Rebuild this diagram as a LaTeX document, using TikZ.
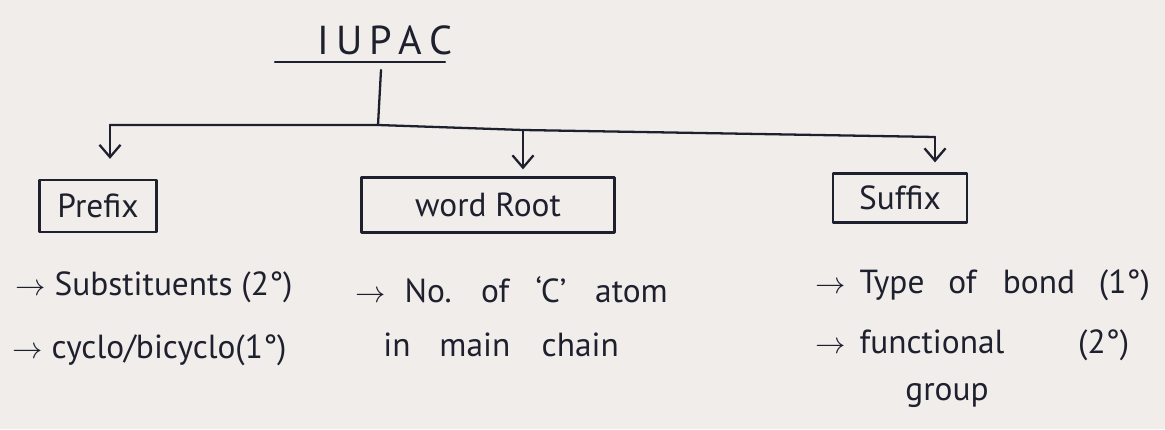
\documentclass[tikz,border=0pt]{standalone}
\usepackage{fontspec}
\setmainfont{PT Sans}
\usetikzlibrary{arrows.meta}
\definecolor{paper}{RGB}{240,237,235}
\definecolor{ink}{RGB}{30,32,45}
\newcommand{\gp}[1]{\hspace{#1}}
\begin{document}
\begin{tikzpicture}[x=0.02cm,y=-0.02cm,
  pen/.style={draw=ink,line width=1.3pt,line cap=round,line join=round},
  arr/.style={pen,-{Straight Barb[length=7pt,width=12pt,line width=1.3pt]}},
  box/.style={pen,rectangle,inner sep=0pt,text=ink,font=\fontsize{19}{22}\selectfont},
  body/.style={text=ink,font=\fontsize{19}{23}\selectfont,inner sep=0pt,anchor=west},
  title/.style={text=ink,font=\fontsize{23}{26}\selectfont,inner sep=0pt}]
\fill[paper] (0,0) rectangle (1165,429);
% title
\node[title] (iupac) at (385,40) {I\,U\,P\,A\,C};
\draw[pen] (275,62) -- (445,62);
\coordinate (top) at (381,70);
\coordinate (hub) at (378,125);
\draw[pen] (top) -- (hub);
% bus
\coordinate (b1) at (110,125);
\coordinate (b2) at (523,130);
\coordinate (b3) at (935,137);
\draw[pen] (b1) -- (hub) -- (b2) -- (b3);
% boxes
\node[box,minimum width=117*0.02cm,minimum height=52*0.02cm] (prefix) at (98,206) {Prefix};
\node[box,minimum width=253*0.02cm,minimum height=55*0.02cm] (root) at (488,205) {word Root};
\node[box,minimum width=134*0.02cm,minimum height=49*0.02cm] (suffix) at (900,198) {Suffix};
% arrows
\draw[arr,shorten >=0.4cm] (b1) -- (prefix.north -| b1);
\draw[arr,shorten >=0.14cm] (b2) -- (root.north -| b2);
\draw[arr,shorten >=0.2cm] (b3) -- (suffix.north -| b3);
% texts
\node[body] (p1) at (15,287) {$\rightarrow$ Substituents (2°)};
\node[body] (p2) at (12,350) {$\rightarrow$ cyclo/bicyclo(1°)};
\node[body] (r1) at (355,290) {$\rightarrow$\gp{0.2cm} No.\gp{0.35cm} of\gp{0.35cm} `C'\gp{0.4cm} atom};
\node[body] (r2) at (383,345) {in\gp{0.4cm} main\gp{0.45cm} chain};
\node[body] (s1) at (815,285) {$\rightarrow$\gp{0.1cm} Type\gp{0.3cm} of\gp{0.35cm} bond\gp{0.3cm} (1°)};
\node[body] (s2) at (815,345) {$\rightarrow$\gp{0.1cm} functional\gp{1.3cm} (2°)};
\node[body,anchor=center] (s3) at (947,395) {group};
\end{tikzpicture}
\end{document}
